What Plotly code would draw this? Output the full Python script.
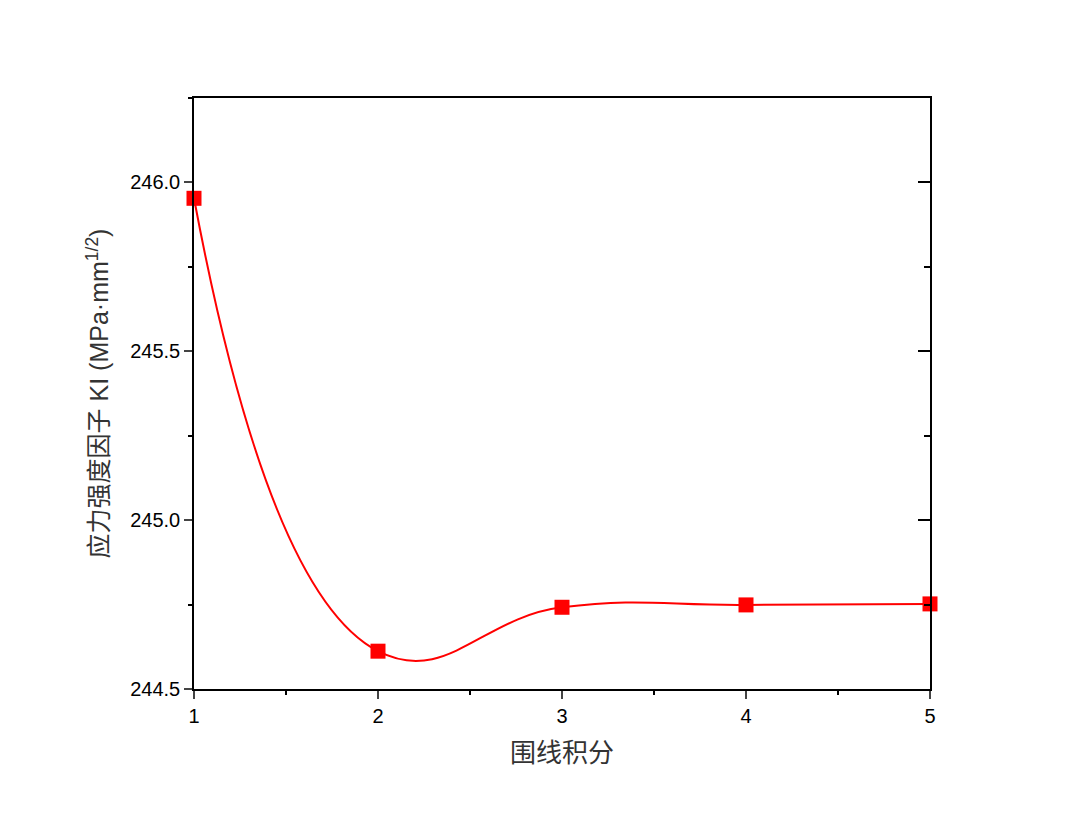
import plotly.graph_objects as go

# data
contours = [1, 2, 3, 4, 5]
ki_values = [245.953, 244.612, 244.742, 244.749, 244.752]

fig = go.Figure()
fig.add_trace(go.Scatter(
    x=contours, y=ki_values, mode="lines+markers",
    line=dict(color="#ff0000", width=2, shape="spline", smoothing=1.3),
    marker=dict(symbol="square", size=15, color="#ff0000"),
    cliponaxis=False, showlegend=False,
))
# invisible trace to activate the right axis
fig.add_trace(go.Scatter(x=contours, y=ki_values, yaxis="y2", mode="none",
                         showlegend=False, hoverinfo="skip"))

font_ticks = dict(family="Liberation Sans, Arial", size=20, color="black")
fig.update_layout(
    width=1080, height=826,
    plot_bgcolor="white", paper_bgcolor="white",
    margin=dict(l=186, r=158, t=90, b=145),
    xaxis=dict(range=[1, 5], tickvals=[1, 2, 3, 4, 5], ticks="outside",
               ticklen=8, tickwidth=1.5, showline=True, linecolor="black",
               linewidth=1.5, mirror=True, showgrid=False, zeroline=False,
               tickfont=font_ticks,
               minor=dict(ticks="outside", ticklen=4, dtick=0.5, tickcolor="black"),
               title=dict(text="围线积分", standoff=18,
                          font=dict(family="Noto Sans CJK SC", size=26, color="#333"))),
    yaxis=dict(range=[244.5, 246.25], tickvals=[244.5, 245.0, 245.5, 246.0],
               ticktext=["244.5", "245.0", "245.5", "246.0"],
               ticks="outside", ticklen=8, tickwidth=1.5, showline=True,
               linecolor="black", linewidth=1.5, mirror=True, showgrid=False,
               zeroline=False, tickfont=font_ticks,
               minor=dict(ticks="outside", ticklen=4, dtick=0.25, tickcolor="black"),
               title=dict(text="应力强度因子 KI (MPa·mm<sup>1/2</sup>)", standoff=14,
                          font=dict(family="Liberation Sans, Noto Sans CJK SC", size=25, color="#333"))),
    yaxis2=dict(range=[244.5, 246.25], overlaying="y", side="right",
                tickvals=[244.5, 245.0, 245.5, 246.0], showticklabels=False,
                ticks="inside", ticklen=12, tickwidth=1.5, tickcolor="black",
                showgrid=False, zeroline=False, showline=False,
                minor=dict(ticks="inside", ticklen=6, dtick=0.25, tickcolor="black")),
)

fig.write_html("out.html")
